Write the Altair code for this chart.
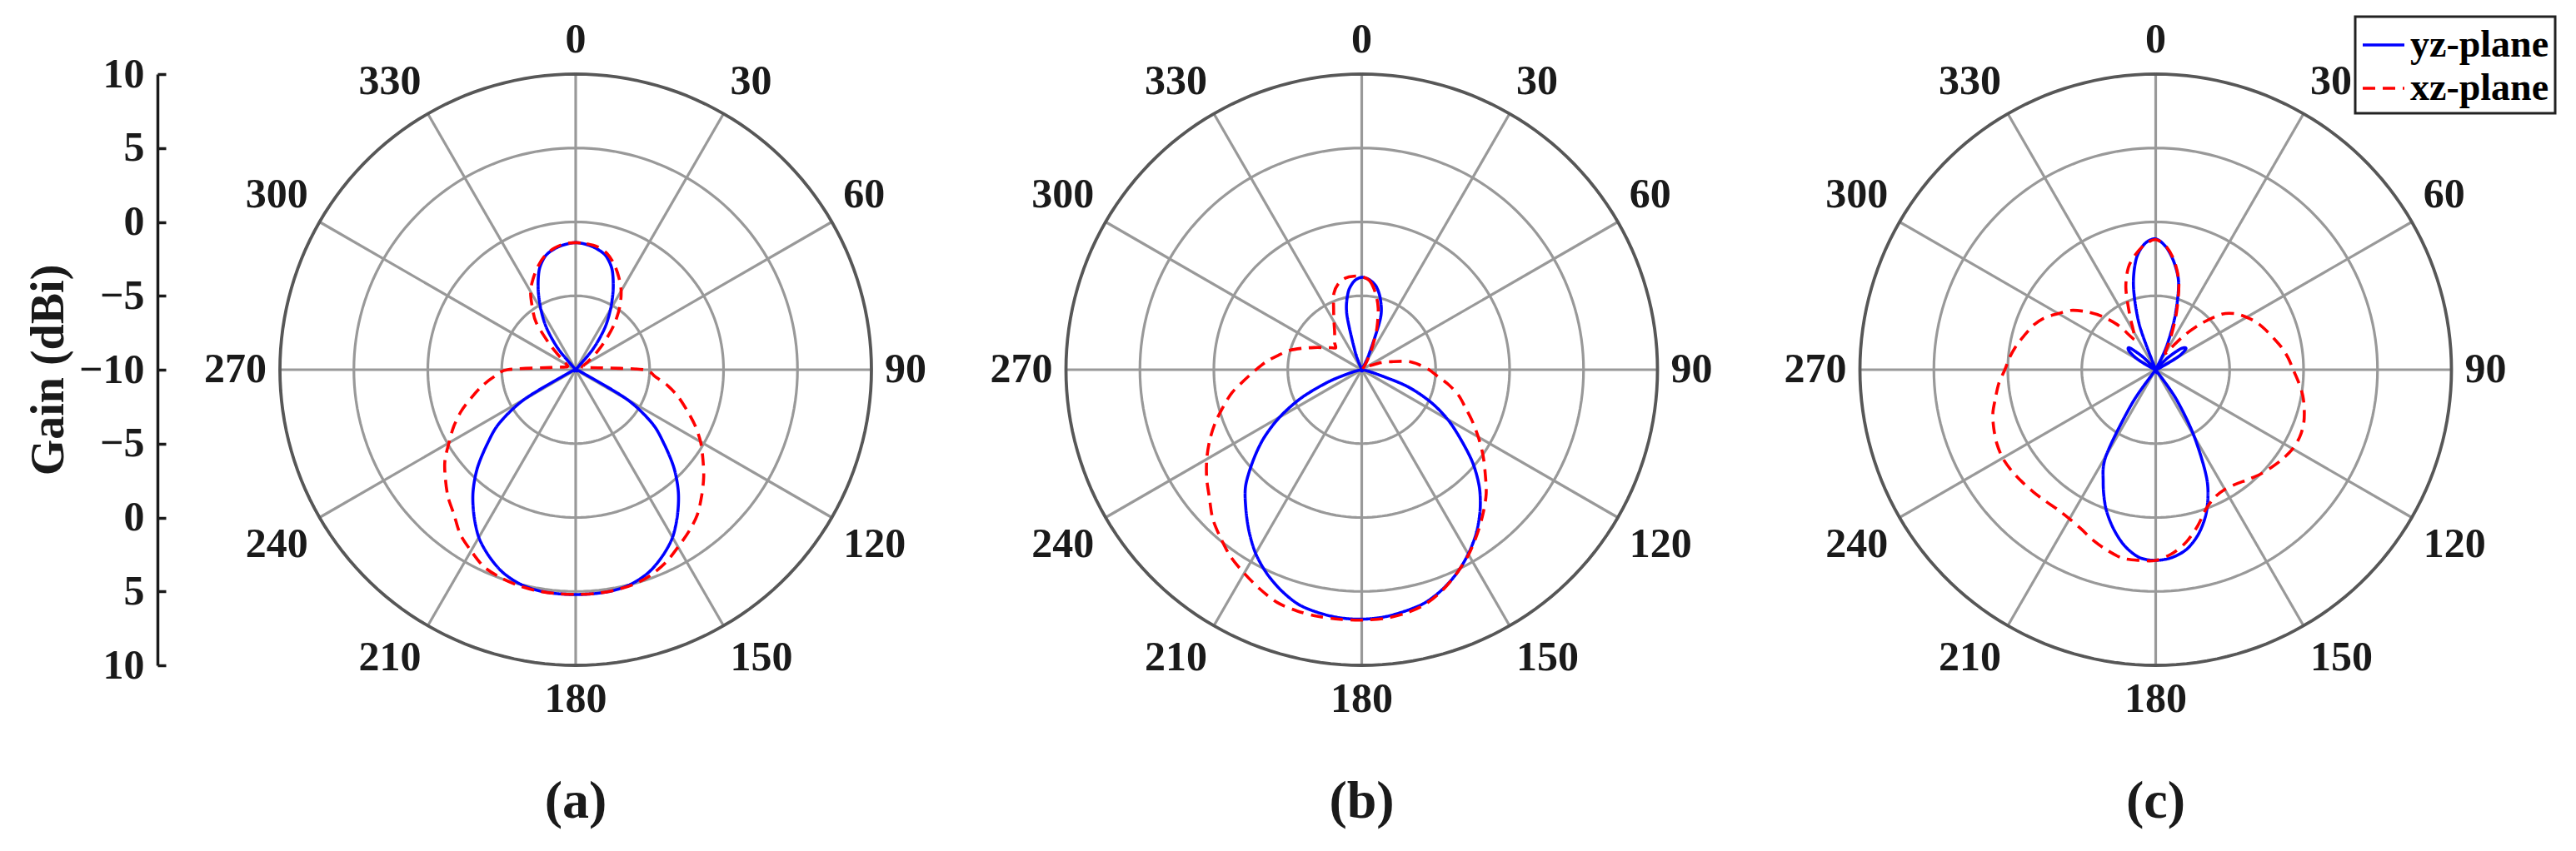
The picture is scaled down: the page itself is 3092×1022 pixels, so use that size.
import json
import math
import altair as alt
import pandas as pd

# ---------------- data ----------------
ANGLES = list(range(0, 360, 5))          # degrees, 0 at top, clockwise
PLANES = ["yz-plane", "xz-plane"]

A_YZ = [-1.4, -1.5, -1.7, -2.05, -2.8, -4.0, -5.3, -6.6, -8.2, -10,
        -10, -10, -10, -10, -10, -10, -10, -10, -10, -10,
        -10, -10, -10, -9.4, -6.0, -3.7, -2.2, -0.6, 0.8, 2.0,
        3.1, 3.9, 4.55, 4.95, 5.15, 5.2, 5.21, 5.2, 5.15, 4.95,
        4.55, 3.9, 3.1, 2.0, 0.8, -0.6, -2.2, -3.7, -6.0, -9.4,
        -10, -10, -10, -10, -10, -10, -10, -10, -10, -10,
        -10, -10, -10, -10, -8.2, -6.6, -5.3, -4.0, -2.8, -2.05,
        -1.7, -1.5]
A_XZ = [-1.4, -1.45, -1.55, -1.85, -2.4, -3.1, -3.85, -4.8, -5.9, -7.1,
        -8.1, -8.85, -9.3, -9.5, -9.5, -9.4, -9.2, -8.5, -5.4, -4.6,
        -3.65, -2.8, -2.0, -1.1, -0.25, 0.5, 1.3, 2.05, 2.8, 3.35,
        3.85, 4.4, 4.8, 5.05, 5.15, 5.2, 5.2, 5.2, 5.18, 5.1,
        4.95, 4.7, 4.15, 3.6, 2.8, 2.2, 1.5, 0.8, -0.1, -0.9,
        -1.75, -2.7, -3.55, -4.45, -5.4, -8.3, -9.0, -9.3, -9.4, -9.4,
        -9.3, -9.1, -8.5, -7.4, -5.85, -4.9, -3.9, -3.2, -2.55, -2.0,
        -1.65, -1.45]
B_YZ = [-3.75, -3.9, -4.3, -5.1, -6.3, -8.8, -10, -10, -10, -10,
        -10, -10, -10, -10, -10, -10, -10, -10, -10, -10,
        -10, -9.2, -6.8, -4.9, -3.3, -1.85, -0.2, 1.25, 2.45, 3.5,
        4.4, 5.2, 5.85, 6.35, 6.6, 6.8, 6.88, 6.85, 6.7, 6.45,
        5.9, 5.2, 4.35, 3.3, 2.2, 1.1, -0.4, -1.9, -3.6, -5.5,
        -7.6, -9.3, -10, -10, -10, -10, -10, -10, -10, -10,
        -10, -10, -10, -10, -10, -10, -10, -10, -8.7, -6.1,
        -4.7, -4.0]
B_XZ = [-3.7, -3.95, -4.7, -5.7, -7.0, -8.3, -9.2, -9.6, -9.8, -9.9,
        -9.9, -9.8, -9.6, -9.3, -8.6, -7.9, -6.8, -6.1, -5.45, -4.85,
        -4.0, -3.2, -2.55, -1.75, -0.9, 0.0, 0.9, 1.9, 2.75, 3.6,
        4.45, 5.2, 5.9, 6.45, 6.75, 6.9, 6.94, 6.95, 6.95, 6.9,
        6.75, 6.35, 5.9, 5.45, 4.85, 4.25, 3.45, 2.8, 2.1, 1.35,
        0.55, -0.3, -1.1, -2.05, -2.85, -3.55, -4.3, -4.95, -5.75, -6.45,
        -7.0, -7.4, -7.7, -7.4, -7.15, -6.8, -6.25, -5.5, -4.5, -3.95,
        -3.7, -3.65]
C_YZ = [-1.15, -1.7, -2.7, -4.0, -6.2, -8.3, -10, -10, -10, -8.9,
        -7.8, -7.5, -8.2, -9.6, -10, -10, -10, -10, -10, -10,
        -10, -10, -10, -10, -10, -10, -10, -10, -10, -7.6,
        -4.8, -1.8, 0.1, 1.4, 2.3, 2.75, 2.9, 2.75, 2.1, 1.1,
        -0.1, -1.6, -3.3, -7.2, -10, -10, -10, -10, -10, -10,
        -10, -10, -10, -10, -10, -10, -10, -10, -10, -9.6,
        -8.6, -7.8, -7.7, -8.8, -10, -10, -10, -10, -6.8, -4.2,
        -2.4, -1.45]
C_XZ = [-1.2, -1.65, -2.6, -3.95, -5.9, -7.6, -8.7, -8.2, -6.9, -5.5,
        -4.15, -3.4, -2.9, -2.45, -2.1, -1.75, -1.35, -1.0, -0.7, -0.3,
        0.1, 0.4, 0.65, 0.75, 0.7, 0.5, 0.25, 0.0, -0.3, -0.55,
        -0.65, -0.5, 0.0, 0.95, 1.85, 2.5, 2.9, 2.95, 2.95, 2.65,
        2.3, 1.9, 1.65, 1.55, 1.6, 1.7, 1.8, 1.9, 1.95, 1.85,
        1.65, 1.4, 1.0, 0.65, 0.2, -0.1, -0.45, -0.85, -1.2, -1.7,
        -2.4, -3.0, -3.9, -4.9, -6.1, -7.5, -7.0, -5.8, -4.1, -2.85,
        -2.1, -1.5]

R_MIN, R_MAX = -10, 10
RING_GAINS = [-5, 0, 5]
SPOKE_ANGLES = list(range(0, 360, 30))
SPOKE_LABELS = [str(a) for a in SPOKE_ANGLES]
GAIN_LABELS = ["10", "5", "0", "\u22125", "\u221210", "\u22125", "0", "5", "10"]
CAPTIONS = ["(a)", "(b)", "(c)"]

# ---------------- style ----------------
FONT = "Liberation Serif"
SIZE = 710
SPAN = R_MAX - R_MIN
LABEL_R = SPAN + 0.9          # label anchor just outside the outer ring
GRID_COLOR = "#999999"
OUTER_COLOR = "#575757"
TEXT_COLOR = "#1a1a1a"
TICK_FONT = 50

curves_all = [(A_YZ, A_XZ), (B_YZ, B_XZ), (C_YZ, C_XZ)]


def curve_df(yz, xz):
    rows = []
    for plane, vals in zip(PLANES, [yz, xz]):
        for a, g in zip(ANGLES, vals):
            rows.append({"angle": a, "gain": g, "plane": plane})
    return pd.DataFrame(rows)


ring_rows = []
for g in RING_GAINS + [R_MAX]:
    for a in range(0, 361, 2):
        ring_rows.append({"ring": g, "angle": a, "outer": int(g == R_MAX)})
ring_df = pd.DataFrame(ring_rows)


def anchor(a):
    s, c = math.sin(math.radians(a)), math.cos(math.radians(a))
    align = "left" if s > 0.1 else ("right" if s < -0.1 else "center")
    base = "bottom" if c > 0.1 else ("top" if c < -0.1 else "middle")
    return align, base


spoke_df = pd.DataFrame({
    "angle": SPOKE_ANGLES,
    "label": SPOKE_LABELS,
    "anchor": ["%s|%s" % anchor(a) for a in SPOKE_ANGLES],
})
ANCHORS = sorted(set(spoke_df["anchor"]))

pos_scale = alt.Scale(domain=[-SPAN, SPAN])
SIN = "sin(datum.angle * PI / 180)"
COS = "cos(datum.angle * PI / 180)"


def X(field="x"):
    return alt.X(f"{field}:Q", scale=pos_scale, axis=None)


def Y(field="y", axis=None):
    return alt.Y(f"{field}:Q", scale=pos_scale, axis=axis)


legend = alt.Legend(
    title=None, orient="none", legendX=2491, legendY=-69,
    symbolType="stroke", symbolSize=2500, symbolStrokeWidth=3.5,
    labelFont=FONT, labelFontSize=46, labelFontWeight="bold", labelColor="black",
    labelLimit=500, padding=7, rowPadding=2, labelOffset=5,
    strokeColor="#222222", fillColor="white",
)
color_enc = alt.Color("plane:N", scale=alt.Scale(domain=PLANES, range=["#0000ff", "#ff0000"]), legend=legend)
dash_enc = alt.StrokeDash("plane:N", scale=alt.Scale(domain=PLANES, range=[[1, 0], [15, 9]]), legend=legend)

axis_left = alt.Axis(
    values=[20, 15, 10, 5, 0, -5, -10, -15, -20],
    labelExpr=f"{json.dumps(GAIN_LABELS)}[round((20 - datum.value) / 5)]",
    title="Gain (dBi)", orient="left", offset=147,
    ticks=False, tickSize=0, domain=True, domainColor=TEXT_COLOR, domainWidth=3.5,
    labelFont=FONT, labelFontSize=TICK_FONT, labelFontWeight="bold", labelColor=TEXT_COLOR,
    labelPadding=16, labelFlush=False,
    titleFont=FONT, titleFontSize=56, titleFontWeight="bold", titleColor=TEXT_COLOR,
    titlePadding=7, grid=False,
)
axis_right_ticks = alt.Axis(
    values=[20, 15, 10, 5, 0, -5, -10, -15, -20], orient="right", offset=-(SIZE + 147),
    labels=False, domain=False, ticks=True, tickSize=10, tickWidth=3.5, tickColor=TEXT_COLOR,
    title=None, grid=False,
)


def panel(i):
    yz, xz = curves_all[i]
    cdf = curve_df(yz, xz)
    first = i == 0

    rings = alt.Chart(ring_df).transform_filter("datum.outer == 0").transform_calculate(
        rr=f"datum.ring - {R_MIN}", x=f"datum.rr * {SIN}", y=f"datum.rr * {COS}"
    ).mark_line(color=GRID_COLOR, strokeWidth=3.2).encode(
        x=X(), y=Y(axis=axis_left if first else None), detail="ring:N", order="angle:Q"
    )
    spokes = alt.Chart(spoke_df).transform_calculate(
        x0="0", y0="0", x=f"{SPAN} * {SIN}", y=f"{SPAN} * {COS}"
    ).mark_rule(color=GRID_COLOR, strokeWidth=3.2).encode(
        x=X("x0"), y=Y("y0"), x2="x:Q", y2="y:Q"
    )
    outer = alt.Chart(ring_df).transform_filter("datum.outer == 1").transform_calculate(
        rr=f"datum.ring - {R_MIN}", x=f"datum.rr * {SIN}", y=f"datum.rr * {COS}"
    ).mark_line(color=OUTER_COLOR, strokeWidth=3.8).encode(
        x=X(), y=Y(axis=axis_right_ticks if first else None), order="angle:Q"
    )
    label_layers = []
    for anc in ANCHORS:
        al, bl = anc.split("|")
        label_layers.append(
            alt.Chart(spoke_df).transform_filter(alt.datum.anchor == anc).transform_calculate(
                x=f"{LABEL_R} * {SIN}", y=f"{LABEL_R} * {COS}"
            ).mark_text(font=FONT, fontSize=TICK_FONT, fontWeight="bold", color=TEXT_COLOR,
                        align=al, baseline=bl).encode(x=X(), y=Y(), text="label:N")
        )

    def curve(plane):
        return alt.Chart(cdf).transform_filter(alt.datum.plane == plane).transform_calculate(
            rr=f"max(datum.gain, {R_MIN}) - {R_MIN}", x=f"datum.rr * {SIN}", y=f"datum.rr * {COS}"
        ).mark_line(strokeWidth=3.6, interpolate="cardinal-closed", tension=0.1).encode(
            x=X(), y=Y(), order="angle:Q", color=color_enc, strokeDash=dash_enc
        )

    layer = alt.layer(rings, spokes, outer, *label_layers, curve(PLANES[0]), curve(PLANES[1])).properties(
        width=SIZE, height=SIZE,
        title=alt.TitleParams(CAPTIONS[i], orient="bottom", offset=66, fontSize=64, font=FONT,
                              fontWeight="bold", color=TEXT_COLOR, anchor="middle"),
    )
    if first:
        layer = layer.resolve_axis(y="independent")
    return layer


chart = alt.hconcat(
    panel(0),
    alt.hconcat(panel(1), panel(2), spacing=243, bounds="flush"),
    spacing=233.5, bounds="flush",
).properties(
    padding={"left": 22, "top": 10, "right": 5, "bottom": 5},
    background="white",
).configure_view(strokeWidth=0).configure_legend(strokeWidth=3)

chart.save("out.html", embed_options={"renderer": "svg", "actions": False})
